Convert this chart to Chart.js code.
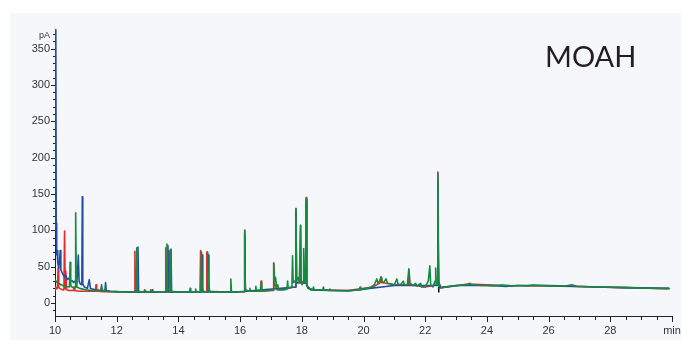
<!DOCTYPE html>
<html>
<head>
<meta charset="utf-8">
<script src="https://cdn.jsdelivr.net/npm/chart.js@4"></script>
<style>
html,body{margin:0;padding:0;background:#ffffff;}
#wrap{position:relative;width:691px;height:350px;}
</style>
</head>
<body>
<div id="wrap"><canvas id="c" width="691" height="350"></canvas></div>
<script>
// ---- data (time in min, signal in pA) ----
const chartTitle = "MOAH";
const yUnit = "pA";
const xUnit = "min";
const yTickValues = [-10,0,10,20,30,40,50,60,70,80,90,100,110,120,130,140,150,160,170,180,190,200,210,220,230,240,250,260,270,280,290,300,310,320,330,340,350,360,370];
const yLabelValues = [0,50,100,150,200,250,300,350];
const xTickValues = [10,10.5,11,11.5,12,12.5,13,13.5,14,14.5,15,15.5,16,16.5,17,17.5,18,18.5,19,19.5,20,20.5,21,21.5,22,22.5,23,23.5,24,24.5,25,25.5,26,26.5,27,27.5,28,28.5,29,29.5,30];
const xLabelValues = [10,12,14,16,18,20,22,24,26,28];

const redTime = [10.00,10.02,10.05,10.08,10.10,10.12,10.15,10.20,10.25,10.29,10.31,10.33,10.35,10.37,10.45,10.60,10.62,10.64,10.80,11.00,11.31,11.33,11.35,11.60,12.00,12.57,12.59,12.61,12.88,12.90,12.92,13.08,13.10,13.12,13.57,13.59,13.61,13.68,13.70,13.72,14.70,14.72,14.74,14.90,14.92,14.94,15.50,16.13,16.15,16.17,16.66,16.68,16.70,17.07,17.09,17.12,17.20,17.79,17.81,17.83,17.94,17.96,17.98,18.12,18.14,18.16,18.25,18.40,19.50,20.30,20.55,20.57,20.59,21.00,21.45,21.47,21.49,22.00,22.39,22.41,22.43,22.50,23.40,24.50,26.00,27.50,28.50,29.90];
const redSignal = [18,22,20,20,48,22,20,19,18,18,99,20,44,18,17,17,22,17,16,16,16,25,16,15.5,15,15,71,15,15,18,15,15,18,15,15,76,16,15,72,15,15,72,16,15,70,16,15,15.5,100,16,16,30,16,17,55,26,18,22,130,28,28,107,28,27,145,24,19,18,17,22,28,35,28,25,25,46,25,22,25,180,30,21,26,24,23.5,22,21,19.5];

const blueTime = [10.00,10.025,10.04,10.055,10.07,10.09,10.12,10.15,10.17,10.19,10.25,10.30,10.35,10.40,10.45,10.50,10.55,10.60,10.65,10.70,10.73,10.755,10.78,10.82,10.87,10.885,10.90,10.95,11.05,11.11,11.15,11.30,11.50,11.62,11.64,11.66,11.80,12.00,12.67,12.69,12.71,13.13,13.15,13.17,13.64,13.66,13.68,13.74,13.76,13.78,14.75,14.77,14.79,14.95,14.97,14.99,15.50,16.13,16.15,16.17,17.79,17.81,17.83,18.12,18.14,18.16,18.30,19.50,20.00,21.00,22.39,22.41,22.43,22.50,23.00,24.20,24.60,25.00,26.00,26.80,27.50,28.50,29.90];
const blueSignal = [100,400,110,66,72,55,48,60,72,45,40,36,38,32,34,30,31,28,30,27,40,66,30,26,25,146,26,22,20,32,20,18,17,17,28,17,16,15.5,15,77,15,15,18,15,15,79,16,15,74,15,15,66,15,15,66,15,15,15.5,95,16,22,125,28,27,140,24,18,16.5,19,24,24,170,30,21,24,24,22.5,24,24,23,22,21,20];

const greenTime = [10.00,10.05,10.10,10.15,10.25,10.35,10.45,10.47,10.49,10.51,10.55,10.60,10.65,10.67,10.69,10.71,10.80,10.90,11.00,11.20,11.48,11.51,11.54,11.70,12.00,12.30,12.63,12.65,12.67,12.90,12.92,12.94,13.10,13.12,13.14,13.61,13.63,13.65,13.72,13.74,13.76,14.00,14.36,14.38,14.40,14.54,14.56,14.58,14.73,14.75,14.77,14.80,14.93,14.95,14.97,15.00,15.05,15.30,15.68,15.70,15.72,15.90,16.13,16.15,16.17,16.30,16.32,16.34,16.49,16.51,16.53,16.66,16.68,16.70,16.90,17.07,17.09,17.12,17.15,17.18,17.22,17.25,17.40,17.52,17.54,17.56,17.68,17.70,17.72,17.76,17.79,17.81,17.83,17.88,17.92,17.96,17.98,18.01,18.04,18.06,18.08,18.12,18.14,18.16,18.20,18.30,18.36,18.38,18.40,18.68,18.70,18.72,18.89,18.91,18.93,19.30,19.60,19.87,19.89,19.91,20.10,20.25,20.35,20.43,20.47,20.52,20.57,20.61,20.65,20.73,20.78,20.90,21.00,21.08,21.12,21.20,21.29,21.33,21.42,21.47,21.51,21.60,21.69,21.73,21.85,21.88,22.00,22.10,22.15,22.18,22.25,22.32,22.34,22.36,22.39,22.41,22.43,22.45,22.55,22.70,22.90,23.10,23.20,23.30,23.40,23.45,23.50,23.60,23.80,24.00,24.20,24.50,24.80,25.00,25.30,25.50,25.80,26.00,26.30,26.50,26.75,26.90,27.20,27.50,28.00,28.50,29.00,29.50,29.90];
const greenSignal = [32,29,27,26,24,23,22,22,56,24,22,21,21,124,30,22,20,19,18,17,17,25,17,16,15.5,15,15,76,16,15,17,15,15,17,15,15,81,20,16,71,16,15,15,20,15,15,19,15,15,70,22,16,15,70,30,18,15,15,15,33,15,15,16,100,18,16,20,16,16,23,16,16,28,16,17,18,55,30,35,22,25,18,18,19,30,20,22,65,28,30,28,130,32,35,28,107,30,25,30,75,30,28,143,25,20,19,18,22,18,18,22,18,17,19,17,17,17,18,22,18,20,22,25,33,27,30,36,29,28,33,27,26,25,33,26,25,30,25,25,47,27,24,27,23,27,22,22,30,51,24,22,30,48,25,26,178,60,22,21,22,23,24,25,24,26,27,25,25,24,24,23.5,24.5,23.5,24,23.5,24.5,24,23.5,23,23,25,23,22.5,22,21.5,21,20.5,20,20];

const markerTime = [22.44,22.44];
const markerSignal = [15,21];

function pts(t, v){ return t.map((x,i)=>({x:x, y:v[i]})); }

const bgPlugin = {
  id:'bg',
  beforeDraw(chart){
    const ctx = chart.ctx;
    ctx.save();
    ctx.fillStyle = '#f5f7fa';
    ctx.fillRect(10,13,671,327);
    ctx.restore();
  },
  afterDraw(chart){
    const ctx = chart.ctx;
    const xs = chart.scales.x, ys = chart.scales.y;
    ctx.save();
    ctx.strokeStyle = '#222';
    ctx.lineWidth = 1;
    ctx.beginPath();
    yTickValues.forEach(v=>{
      const p = Math.round(ys.getPixelForValue(v)) + 0.5;
      const len = yLabelValues.includes(v) ? 4 : 2;
      ctx.moveTo(xs.left - len, p); ctx.lineTo(xs.left, p);
    });
    xTickValues.forEach(v=>{
      const p = Math.round(xs.getPixelForValue(v)) + 0.5;
      const len = (xLabelValues.includes(v) || v===30) ? 6 : 4;
      ctx.moveTo(p, ys.bottom); ctx.lineTo(p, ys.bottom + len);
    });
    ctx.stroke();
    ctx.fillStyle = '#333';
    ctx.font = '9px "Liberation Sans", Arial, sans-serif';
    ctx.textAlign = 'right';
    ctx.textBaseline = 'middle';
    ctx.fillText(yUnit, 50, 36);
    ctx.fillStyle = '#231f20';
    ctx.font = '29px Lato, "Open Sans", sans-serif';
    ctx.textAlign = 'left';
    ctx.textBaseline = 'alphabetic';
    ctx.fillText(chartTitle, 545, 67);
    ctx.restore();
  }
};

new Chart(document.getElementById('c'), {
  type:'line',
  data:{
    datasets:[
      {label:'green', data:pts(greenTime, greenSignal), borderColor:'#168a40', order:1},
      {label:'blue', data:pts(blueTime, blueSignal), borderColor:'#1f4fa2', order:2},
      {label:'red', data:pts(redTime, redSignal), borderColor:'#e8292b', order:3},
      {label:'marker', data:pts(markerTime, markerSignal), borderColor:'#111', order:0}
    ]
  },
  options:{
    responsive:false,
    animation:false,
    devicePixelRatio:1,
    elements:{ line:{borderWidth:1.6, tension:0, borderJoinStyle:'round', borderCapStyle:'round'}, point:{radius:0} },
    layout:{ padding:{left:0, right:19, top:29, bottom:0} },
    plugins:{ legend:{display:false}, tooltip:{enabled:false} },
    scales:{
      x:{
        type:'linear', min:10, max:30,
        afterFit(s){ s.height = 34; },
        afterBuildTicks(s){ s.ticks = xLabelValues.concat([30]).map(v=>({value:v})); },
        grid:{ display:true, drawOnChartArea:false, drawTicks:true, tickLength:6, color:'rgba(0,0,0,0)' },
        border:{ display:true, color:'#222', width:1 },
        ticks:{ autoSkip:false, maxRotation:0, padding:2, color:'#333', font:{family:'"Liberation Sans", Arial, sans-serif', size:11},
          callback:(v)=> v===30 ? xUnit : String(v) }
      },
      y:{
        type:'linear', min:-18, max:377,
        afterFit(s){ s.width = 55; },
        afterBuildTicks(s){ s.ticks = yLabelValues.map(v=>({value:v})); },
        grid:{ display:true, drawOnChartArea:false, drawTicks:true, tickLength:4, color:'rgba(0,0,0,0)' },
        border:{ display:true, color:'#222', width:1 },
        ticks:{ autoSkip:false, padding:1, color:'#333', font:{family:'"Liberation Sans", Arial, sans-serif', size:11},
          callback:(v)=> String(v) }
      }
    }
  },
  plugins:[bgPlugin]
});
</script>
</body>
</html>
